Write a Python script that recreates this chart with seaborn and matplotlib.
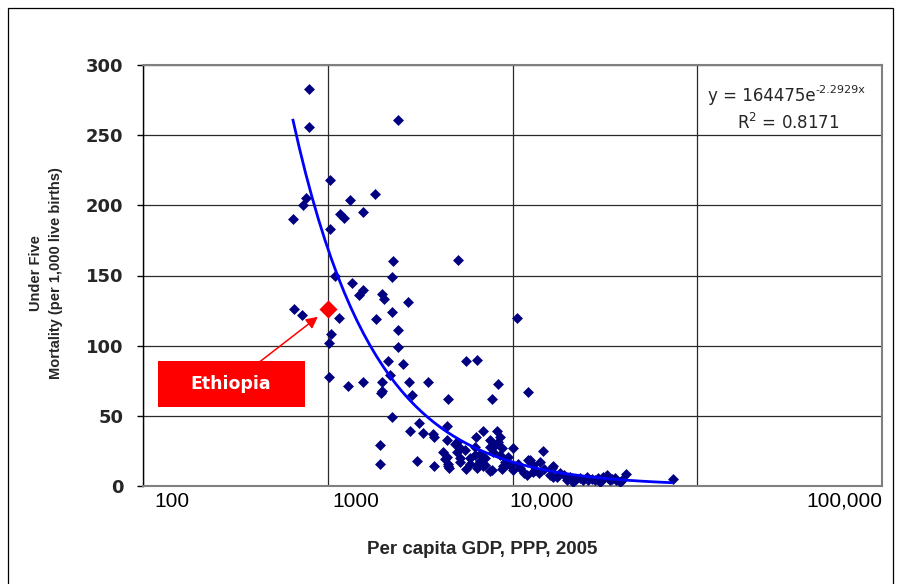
import numpy as np
import pandas as pd
import matplotlib
matplotlib.use("Agg")
import matplotlib.pyplot as plt
from matplotlib import font_manager
from matplotlib.patches import Rectangle
from matplotlib.ticker import NullLocator
import seaborn as sns

# Per capita GDP (PPP, 2005) and under-five mortality (per 1,000 live births)
gdp = [794, 794, 2391, 1032, 760, 732, 646, 1319, 1803, 1557, 1165, 1224, 1032,
       2264, 5070, 2219, 1099, 1348, 1557, 1482, 1959, 2016, 2729, 657, 730, 1146,
       2219, 1825, 10600, 2409, 1040, 1012, 2409, 2127, 2545, 5581, 6400, 1012,
       2173, 1557, 1287, 1959, 1959, 1930, 2763, 3475, 2847, 8377, 4460, 7715,
       12180, 2219, 3130, 2787, 3290, 3698, 3758, 4437, 6950, 8213, 8557, 1918,
       1918, 3030, 3772, 4221, 4404, 4493, 4885, 5197, 5888, 6400, 6266, 6670,
       7715, 7871, 8377, 8741, 10100, 12180, 14570, 14090, 10100, 13240, 16300,
       16630, 19660, 21340, 11939, 4404, 5152, 6345, 7553, 7553, 7871, 4311, 4493,
       4990, 5197, 4550, 6400, 6950, 7100, 8557, 9109, 7553, 8741, 9694, 10750,
       12430, 12960, 9303, 8918, 16630, 12960, 15960, 18080, 20480, 23200, 25220,
       25720, 29130, 31010, 32360, 33720, 35870, 29760, 38180, 41150, 73630,
       5888, 6266, 6670, 7100, 5600, 5000, 5500, 9500, 11000, 11500, 14000, 14800,
       17500, 19000, 22000, 24000, 27000, 28000, 30500, 34500, 36500, 39000, 33000]
u5mr = [283, 256, 261, 218, 205, 200, 190, 204, 208, 195, 194, 191, 183,
        160, 161, 149, 150, 145, 140, 136, 137, 133, 131, 126, 122, 120,
        124, 119, 120, 111, 108, 102, 99, 89, 87, 89, 90, 78,
        79, 74, 71, 74, 68, 66, 74, 74, 65, 73, 62, 62,
        67, 49, 45, 39, 38, 37, 35, 43, 39, 39, 35, 29,
        16, 18, 14, 24.5, 21, 14, 30, 17, 16, 15, 28, 23,
        11.5, 28, 31.5, 27, 27, 18.5, 25, 17, 11.5, 11.5, 13,
        6.6, 4.3, 3, 7.8, 33, 28, 35, 33, 28, 24.5, 19, 16,
        24, 20, 13, 12.6, 14, 20, 22, 17, 11, 12, 15, 16,
        18.5, 15, 16, 14, 14.3, 10, 7.8, 9, 6.6, 5.5, 6.6,
        4.3, 5.5, 6.6, 7.8, 4.3, 5.5, 3.1, 3.1, 8.6, 4.8,
        20, 22, 18, 15, 12, 31, 26, 21, 13, 9, 9.5, 12,
        6.5, 7.5, 5, 4, 5, 4.5, 4.3, 5.2, 4.4, 4.5, 6]

highlight_name = "Ethiopia"
highlight_gdp = 1000
highlight_u5mr = 126

# Exponential fit against log10(GDP)
trend_a = 164475
trend_b = -2.2929
r_squared = 0.8171

x_ticks = [100, 1000, 10000, 100000]
x_tick_labels = ["100", "1000", "10,000", "100,000"]
y_ticks = [0, 50, 100, 150, 200, 250, 300]

sns.set_theme(style="white")
installed = {f.name for f in font_manager.fontManager.ttflist}
narrow = "Liberation Sans Narrow" if "Liberation Sans Narrow" in installed else "Liberation Sans"
plt.rcParams["font.family"] = ["DejaVu Sans"]

W, H = 898, 584
fig = plt.figure(figsize=(W / 100, H / 100), dpi=100)
fig.patch.set_facecolor("white")

def fx(px):
    return px / W

def fy(py):
    return 1 - py / H

ax = fig.add_axes([fx(143), fy(486), (882 - 143) / W, (486 - 65) / H])
ax.set_facecolor("white")

df = pd.DataFrame({"gdp": gdp, "u5mr": u5mr})
sns.scatterplot(data=df, x="gdp", y="u5mr", marker="D", s=31, color="#000080",
                linewidth=0, ax=ax, zorder=3, legend=False)

# fitted curve across the observed GDP range
lo, hi = np.log10(min(gdp)), np.log10(max(gdp))
xs = np.logspace(lo, hi, 60)
ys = trend_a * np.exp(trend_b * np.log10(xs))
ax.plot(xs, ys, color="#0000FF", lw=2.0, zorder=4, solid_capstyle="butt")

ax.scatter([highlight_gdp], [highlight_u5mr], marker="D", s=85, color="#FF0000",
           linewidths=0, zorder=5)

ax.set_xscale("log")
ax.set_xlim(100, 1e6)
ax.set_ylim(0, 300)
ax.set_xticks(x_ticks)
ax.xaxis.set_minor_locator(NullLocator())
ax.set_xticklabels([])
ax.set_yticks(y_ticks)
ax.set_yticklabels([str(v) for v in y_ticks], fontweight="bold", fontsize=13,
                   family="DejaVu Sans")
ax.set_xlabel("")
ax.set_ylabel("")
ax.grid(True, which="major", color="#2a2a2a", lw=0.9)
ax.set_axisbelow(True)
ax.tick_params(axis="x", length=0)
ax.tick_params(axis="y", direction="out", length=4, width=1, color="black",
               pad=10, left=True)

for side in ["top", "right", "bottom"]:
    ax.spines[side].set_color("#808080")
    ax.spines[side].set_linewidth(1.5)
ax.spines["left"].set_color("black")
ax.spines["left"].set_linewidth(1.0)

# x labels sit just right of their gridlines
label_shift = [29, 28, 29, 147]
for val, lab, dx in zip(x_ticks, x_tick_labels, label_shift):
    ax.annotate(lab, xy=(val, 0), xycoords=("data", "axes fraction"),
                xytext=(dx * 0.72, -4), textcoords="offset points",
                ha="center", va="top", fontsize=15, family=narrow,
                color="black", annotation_clip=False)

fig.text(fx(482), fy(549), "Per capita GDP, PPP, 2005", ha="center", va="center",
         fontsize=13.5, fontweight="bold", family=narrow)
fig.text(fx(46), fy(273), "Under Five\nMortality (per 1,000 live births)",
         rotation=90, ha="center", va="center", multialignment="center",
         fontsize=10.5, fontweight="bold", family="Liberation Sans", linespacing=1.5)

# regression equation
eq = fig.text(fx(708), fy(101), "y = 164475e", ha="left", va="baseline",
              fontsize=12, family="DejaVu Sans")
ax.annotate(f"{trend_b}x", xy=(1.0, 0.68), xycoords=eq, ha="left", va="baseline",
            fontsize=8, family="DejaVu Sans", annotation_clip=False)
fig.text(fx(788), fy(129), r"R$^{\mathregular{2}}$ = " + f"{r_squared}",
         ha="center", va="baseline", fontsize=12, family="DejaVu Sans")

# highlighted country label with arrow
box = Rectangle((fx(158), fy(407)), 147 / W, 46 / H, transform=fig.transFigure,
                facecolor="#FF0000", edgecolor="none", zorder=6, clip_on=False)
ax.add_patch(box)
ax.annotate(highlight_name, xy=(highlight_gdp, highlight_u5mr),
            xytext=(fx(231), fy(384)), textcoords="figure fraction",
            ha="center", va="center", color="white", fontweight="bold",
            fontsize=12.5, family="DejaVu Sans", zorder=7,
            arrowprops=dict(arrowstyle="-|>,head_length=0.55,head_width=0.28",
                            color="#FF0000", lw=1.1, shrinkA=0, shrinkB=9))

# outer frame of the chart
frame = Rectangle((fx(7.5), -0.1), (893 - 7.5) / W, 1.1 - 7.5 / H,
                  transform=fig.transFigure, facecolor="none", edgecolor="black",
                  lw=0.9, clip_on=False)
fig.patches.append(frame)

fig.savefig("out.png", dpi=100)
